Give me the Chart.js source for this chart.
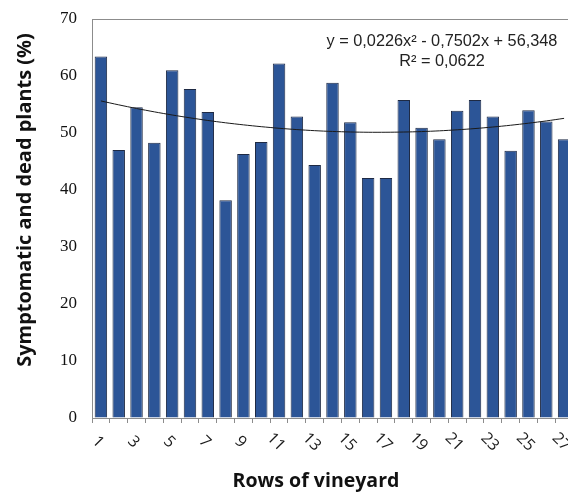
<!DOCTYPE html>
<html>
<head>
<meta charset="utf-8">
<script src="https://cdn.jsdelivr.net/npm/chart.js@4/dist/chart.umd.min.js"></script>
<style>
  html, body { margin: 0; padding: 0; background: #fff; overflow: hidden; }
  #wrap { position: relative; width: 600px; height: 492px; }
</style>
</head>
<body>
<div id="wrap"><canvas id="c" width="600" height="492"></canvas></div>
<script>
const categories = ['1','2','3','4','5','6','7','8','9','10','11','12','13','14','15','16','17','18','19','20','21','22','23','24','25','26','27'];
const values = [63.4, 47.0, 54.5, 48.3, 61.0, 57.7, 53.7, 38.2, 46.3, 48.4, 62.2, 52.9, 44.4, 58.8, 51.9, 42.1, 42.1, 55.8, 50.9, 48.9, 53.9, 55.8, 52.9, 46.9, 54.0, 52.0, 48.9];
// polynomial trendline values (y = 0,0226x² - 0,7502x + 56,348) at each row
const trendValues = [55.62, 54.94, 54.30, 53.71, 53.16, 52.66, 52.20, 51.79, 51.43, 51.11, 50.83, 50.60, 50.41, 50.27, 50.18, 50.13, 50.13, 50.17, 50.25, 50.38, 50.56, 50.78, 51.05, 51.36, 51.72, 52.12, 52.57];
const shownXLabels = ['1','3','5','7','9','11','13','15','17','19','21','23','25','27'];
const yTickValues = [0, 10, 20, 30, 40, 50, 60, 70];
const yMin = 0, yMax = 70, yStep = 10;
const xTitle = 'Rows of vineyard';
const yTitle = 'Symptomatic and dead plants (%)';
const equationLines = ['y = 0,0226x\u00B2 - 0,7502x + 56,348', 'R\u00B2 = 0,0622'];

function fitFont(ctx, text, weight, family, targetWidth) {
  ctx.font = weight + ' 20px ' + family;
  const w = ctx.measureText(text).width;
  const size = 20 * targetWidth / w;
  ctx.font = weight + ' ' + size.toFixed(2) + 'px ' + family;
}

const decor = {
  id: 'decor',
  afterDatasetsDraw(chart) {
    const ctx = chart.ctx, a = chart.chartArea, xs = chart.scales.x, ys = chart.scales.y;
    ctx.save();
    // top frame line
    ctx.strokeStyle = '#8c8c8c';
    ctx.lineWidth = 1;
    ctx.beginPath();
    ctx.moveTo(a.left, a.top + 0.5);
    ctx.lineTo(a.right + 30, a.top + 0.5);
    ctx.stroke();
    // y tick labels (serif)
    ctx.fillStyle = '#111';
    ctx.font = '17px "Liberation Serif", serif';
    ctx.textAlign = 'right';
    ctx.textBaseline = 'middle';
    yTickValues.forEach(v => ctx.fillText(String(v), 77, ys.getPixelForValue(v)));
    // rotated x labels (clockwise)
    ctx.fillStyle = '#1a1a1a';
    ctx.font = '16px "Open Sans", sans-serif';
    ctx.textAlign = 'center';
    ctx.textBaseline = 'middle';
    categories.forEach((c, i) => {
      if (!shownXLabels.includes(c)) return;
      const x = xs.getPixelForValue(i) - 3;
      ctx.save();
      ctx.translate(x, 442);
      ctx.rotate(Math.PI / 4);
      ctx.fillText(c, 0, 0);
      ctx.restore();
    });
    // axis titles
    ctx.fillStyle = '#111';
    fitFont(ctx, xTitle, 'bold', '"Open Sans", sans-serif', 167);
    ctx.fillText(xTitle, 316, 481);
    fitFont(ctx, yTitle, 'bold', '"Open Sans", sans-serif', 334);
    ctx.save();
    ctx.translate(25, 200);
    ctx.rotate(-Math.PI / 2);
    ctx.fillText(yTitle, 0, 0);
    ctx.restore();
    // equation
    ctx.fillStyle = '#222';
    fitFont(ctx, equationLines[0], 'normal', '"Liberation Sans", sans-serif', 231);
    ctx.fillText(equationLines[0], 442, 42);
    ctx.fillText(equationLines[1], 442, 62);
    ctx.restore();
  }
};

new Chart(document.getElementById('c'), {
  type: 'bar',
  data: {
    labels: categories,
    datasets: [
      {
        type: 'line',
        data: trendValues,
        borderColor: '#1a1a1a',
        borderWidth: 1,
        pointRadius: 0,
        fill: false,
        tension: 0.3,
        order: 0
      },
      {
        type: 'bar',
        data: values,
        backgroundColor: '#2c5597',
        borderColor: '#1e2a44',
        borderWidth: 1,
        barPercentage: 0.7,
        categoryPercentage: 1,
        order: 1
      }
    ]
  },
  options: {
    responsive: false,
    animation: false,
    devicePixelRatio: 1,
    layout: { padding: { top: 19, right: 27, left: 0, bottom: 0 } },
    plugins: { legend: { display: false }, tooltip: { enabled: false } },
    scales: {
      x: {
        offset: true,
        ticks: { display: false, autoSkip: false },
        grid: { drawOnChartArea: false, drawTicks: true, tickLength: 5, color: '#8c8c8c', offset: true },
        border: { display: true, color: '#8c8c8c', width: 1 },
        afterFit(scale) { scale.height = 74; }
      },
      y: {
        min: yMin, max: yMax,
        ticks: { stepSize: yStep, display: false },
        grid: { display: true, drawOnChartArea: false, drawTicks: false },
        border: { display: true, color: '#8c8c8c', width: 1 },
        afterFit(scale) { scale.width = 92; }
      }
    }
  },
  plugins: [decor]
});
</script>
</body>
</html>
